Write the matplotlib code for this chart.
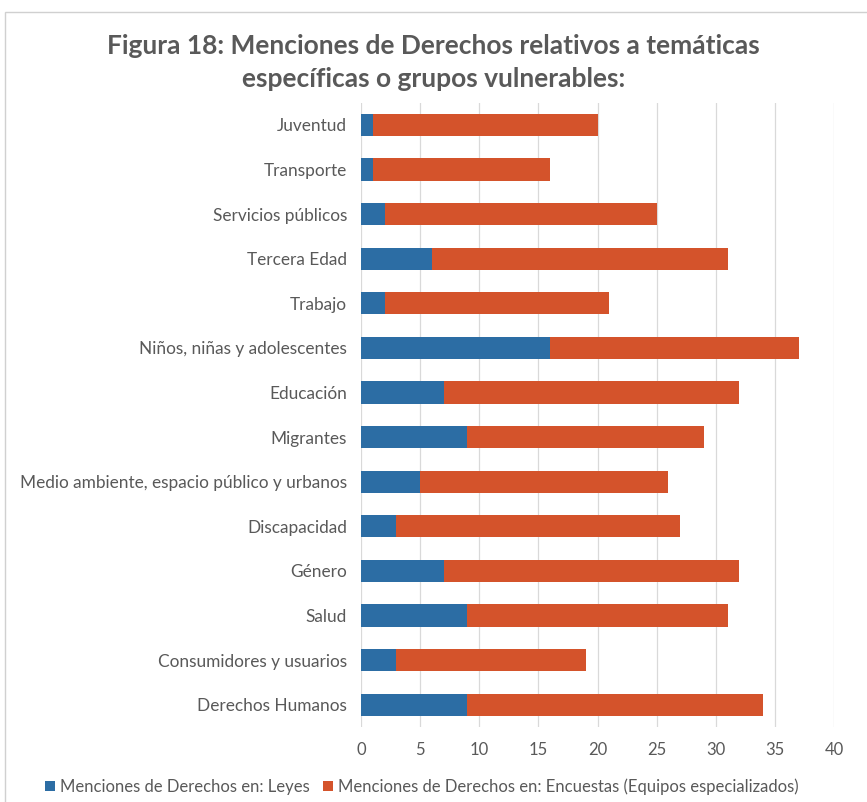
import matplotlib
matplotlib.use('Agg')
import matplotlib.pyplot as plt
import matplotlib.patches as mpatches
import numpy as np

plt.rcParams['font.family'] = ['Lato', 'DejaVu Sans']

C_TEXT = '#595959'
C_GRID = '#D9D9D9'
C_LEYES = '#2C6DA4'
C_ENC = '#D4532B'

categorias = [
    'Juventud', 'Transporte', 'Servicios públicos', 'Tercera Edad', 'Trabajo',
    'Niños, niñas y adolescentes', 'Educación', 'Migrantes',
    'Medio ambiente, espacio público y urbanos', 'Discapacidad', 'Género',
    'Salud', 'Consumidores y usuarios', 'Derechos Humanos',
]
leyes = [1, 1, 2, 6, 2, 16, 7, 9, 5, 3, 7, 9, 3, 9]
encuestas = [19, 15, 23, 25, 19, 21, 25, 20, 21, 24, 25, 22, 16, 25]
ticks = [0, 5, 10, 15, 20, 25, 30, 35, 40]

fig = plt.figure(figsize=(8.67, 8.02), dpi=100)
fig.patch.set_facecolor('white')

# chart area border
fig.patches.append(mpatches.Rectangle((5 / 867, -0.01), 1.0, 1 - 12 / 802 + 0.01,
                                      transform=fig.transFigure, facecolor='none',
                                      edgecolor='#D0D0D0', linewidth=1.0))

ax = fig.add_axes([0.4164, 0.0935, 0.5456, 0.7785])
y = np.arange(len(categorias))
ax.barh(y, leyes, height=0.5, color=C_LEYES, label='Menciones de Derechos en: Leyes', zorder=3)
ax.barh(y, encuestas, left=leyes, height=0.5, color=C_ENC,
        label='Menciones de Derechos en: Encuestas (Equipos especializados)', zorder=3)

ax.set_ylim(len(categorias) - 0.5, -0.5)
ax.set_xlim(0, 40)
ax.set_xticks(ticks)
ax.set_yticks(y)
ax.set_yticklabels(categorias)
ax.tick_params(axis='x', length=0, labelsize=12, colors=C_TEXT, pad=11)
ax.tick_params(axis='y', length=0, labelsize=12.4, colors=C_TEXT, pad=10)
ax.grid(axis='x', color=C_GRID, linewidth=0.9, zorder=0)
for s in ax.spines.values():
    s.set_visible(False)

fig.text(0.5, 0.922, 'Figura 18: Menciones de Derechos relativos a temáticas\nespecíficas o grupos vulnerables:',
         ha='center', va='center', fontsize=19, fontweight='bold', color=C_TEXT, linespacing=1.45)

fig.legend(loc='center', bbox_to_anchor=(0.486, 0.019), ncol=2, frameon=False,
           fontsize=12, labelcolor=C_TEXT, handlelength=0.6, handleheight=0.6,
           handletextpad=0.3, columnspacing=0.8)

fig.savefig('out.png', dpi=100, facecolor='white')
